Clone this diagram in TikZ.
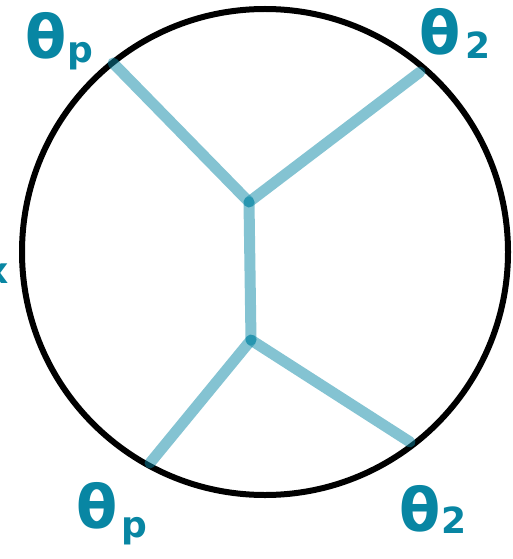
\documentclass[tikz,border=0pt]{standalone}
\usepackage{fontspec}
\newfontfamily\lbl{DejaVu Sans}
\definecolor{ink}{RGB}{8,134,163}
\definecolor{prop}{RGB}{10,135,165}
\begin{document}
\begin{tikzpicture}[x=1pt,y=-1pt,
  edge/.style={line width=11pt,draw=prop,draw opacity=0.5,line cap=round},
  lab/.style={text=ink,font=\lbl\bfseries\fontsize{60}{60}\selectfont,inner sep=0pt},
  sub/.style={text=ink,font=\lbl\bfseries\fontsize{36}{36}\selectfont,inner sep=0pt}]
\useasboundingbox (0,0) rectangle (512,559);
\clip (0,0) rectangle (512,559);
\node[circle,draw=black,line width=6pt,minimum size=486pt,inner sep=0pt] (C) at (265,252) {};
\coordinate (a) at (113,63);
\coordinate (b) at (420,72);
\coordinate (u) at (249,202);
\coordinate (l) at (251,340);
\coordinate (c) at (150,463);
\coordinate (d) at (410,442);
\draw[edge] (a) -- (u);
\draw[edge] (b) -- (u);
\draw[edge] (u) -- (l);
\draw[edge] (l) -- (c);
\draw[edge] (l) -- (d);
\node[lab] (t1) at (46,36) {θ};
\node[sub,anchor=center] (s1) at (80,56) {p};
\node[lab] (t2) at (440,32) {θ};
\node[sub,anchor=center] (s2) at (478,45) {2};
\node[lab] (t3) at (97,506) {θ};
\node[sub,anchor=center] (s3) at (134,531) {p};
\node[lab] (t4) at (420,509) {θ};
\node[sub,anchor=center] (s4) at (454,520) {2};
\node[text=ink,font=\lbl\bfseries\fontsize{36}{36}\selectfont,inner sep=0pt] (x) at (-3,274) {x};
\end{tikzpicture}
\end{document}
